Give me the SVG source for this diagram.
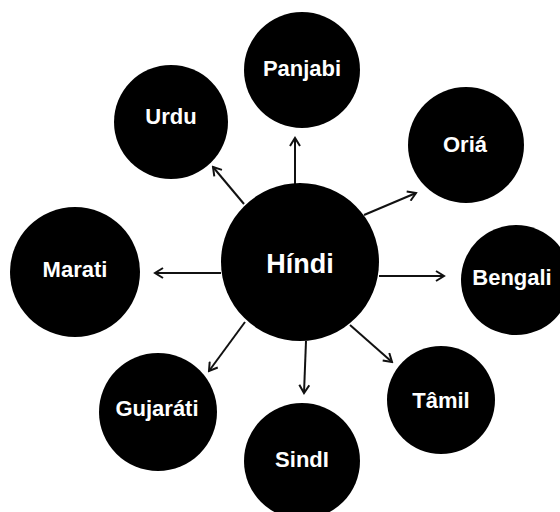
<svg xmlns="http://www.w3.org/2000/svg" width="560" height="512" viewBox="0 0 560 512">
<style>
.node circle{fill:#000}
.node text{fill:#fff;font-family:"Liberation Sans",Arial,sans-serif;font-weight:bold;font-size:22px;text-anchor:middle}
.node.main text{font-size:27px}
.edges line{stroke:#111;stroke-width:2;marker-end:url(#arr)}
</style>
<defs>
<marker id="arr" viewBox="0 0 12 12" refX="10" refY="6" markerWidth="12" markerHeight="12" markerUnits="userSpaceOnUse" orient="auto">
<path d="M2,1 L10,6 L2,11" fill="none" stroke="#111" stroke-width="2"/>
</marker>
</defs>
<rect width="560" height="512" fill="#fff"/>
<g class="edges">
<line x1="295" y1="184" x2="295" y2="138"/>
<line x1="244" y1="204" x2="213" y2="167"/>
<line x1="364" y1="215" x2="416" y2="193"/>
<line x1="221" y1="273" x2="155" y2="273"/>
<line x1="379" y1="276" x2="444" y2="276"/>
<line x1="245" y1="322" x2="209" y2="371"/>
<line x1="306" y1="341" x2="304" y2="393"/>
<line x1="350" y1="325" x2="392" y2="362"/>
</g>
<g id="hindi" class="node main"><circle cx="300" cy="262" r="79"/><text x="300" y="273">Híndi</text></g>
<g id="panjabi" class="node"><circle cx="302" cy="70" r="58"/><text x="302" y="76">Panjabi</text></g>
<g id="urdu" class="node"><circle cx="171" cy="122" r="57"/><text x="171" y="124">Urdu</text></g>
<g id="oria" class="node"><circle cx="466" cy="145" r="58"/><text x="465" y="152">Oriá</text></g>
<g id="marati" class="node"><circle cx="75" cy="272" r="65"/><text x="75" y="277">Marati</text></g>
<g id="bengali" class="node"><circle cx="516" cy="280" r="55"/><text x="512" y="285">Bengali</text></g>
<g id="gujarati" class="node"><circle cx="158" cy="412" r="59"/><text x="157" y="416">Gujaráti</text></g>
<g id="sindi" class="node"><circle cx="302" cy="461" r="58"/><text x="302" y="467">SindI</text></g>
<g id="tamil" class="node"><circle cx="441" cy="400" r="54"/><text x="441" y="408">Tâmil</text></g>
</svg>
